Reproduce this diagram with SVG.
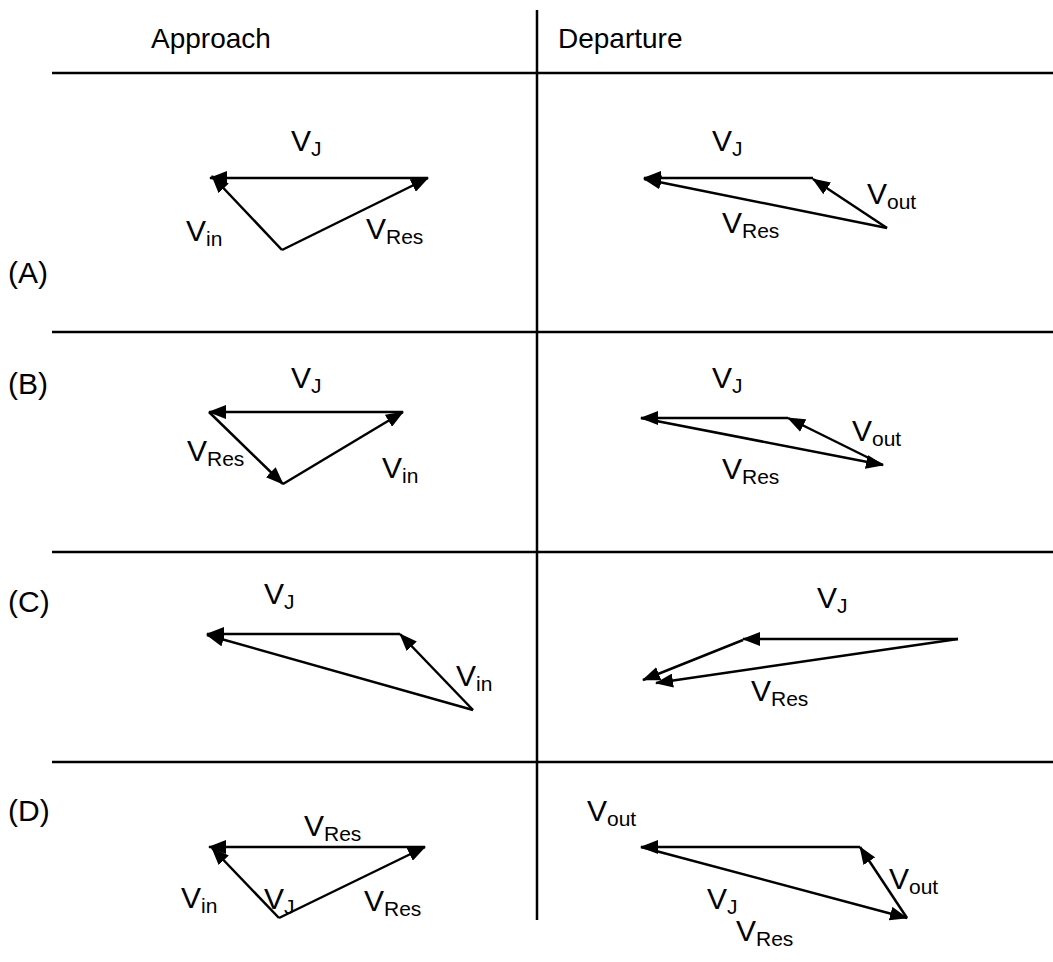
<svg xmlns="http://www.w3.org/2000/svg" width="1053" height="962" viewBox="0 0 1053 962">
<defs>
<style>
.t{font-family:"Liberation Sans",Arial,sans-serif;font-size:30px;fill:#000}
.h{font-size:28px}
.s{font-size:21px}
.g{stroke:#000;stroke-width:2.5;fill:none}
.v{stroke:#000;stroke-width:2.5;fill:none;marker-end:url(#ah)}
</style>
<marker id="ah" viewBox="0 0 18 14" refX="17" refY="7" markerWidth="18" markerHeight="14" orient="auto" markerUnits="userSpaceOnUse"><path d="M0,0 L18,7 L0,14 z" fill="#000"/></marker>
</defs>
<rect width="1053" height="962" fill="#fff"/>
<g id="grid">
<line class="g" x1="537" y1="10" x2="537" y2="920"/>
<line class="g" x1="52" y1="73" x2="1053" y2="73"/>
<line class="g" x1="52" y1="332" x2="1053" y2="332"/>
<line class="g" x1="52" y1="552" x2="1053" y2="552"/>
<line class="g" x1="52" y1="762" x2="1053" y2="762"/>
</g>
<g id="headers">
<text class="t h" x="151" y="48">Approach</text>
<text class="t h" x="558" y="48">Departure</text>
<text class="t" x="8" y="283">(A)</text>
<text class="t" x="8" y="394">(B)</text>
<text class="t" x="8" y="612">(C)</text>
<text class="t" x="8" y="821">(D)</text>
</g>
<g id="connectors">
<line class="v" x1="428" y1="178" x2="210" y2="178"/>
<line class="v" x1="282" y1="250" x2="212" y2="176"/>
<line class="v" x1="282" y1="250" x2="428" y2="178"/>
<line class="v" x1="813" y1="178" x2="644" y2="178"/>
<line class="v" x1="887" y1="228" x2="813" y2="179"/>
<line class="v" x1="887" y1="228" x2="644" y2="179"/>
<line class="v" x1="403" y1="412" x2="209" y2="412"/>
<line class="v" x1="209" y1="412" x2="283" y2="484"/>
<line class="v" x1="283" y1="484" x2="403" y2="412"/>
<line class="v" x1="788" y1="418" x2="641" y2="418"/>
<line class="v" x1="883" y1="465" x2="788" y2="418"/>
<line class="v" x1="641" y1="418" x2="883" y2="465"/>
<line class="v" x1="400" y1="634" x2="207" y2="634"/>
<line class="v" x1="473" y1="710" x2="400" y2="634"/>
<line class="v" x1="473" y1="710" x2="207" y2="635"/>
<line class="v" x1="958" y1="639" x2="743" y2="639"/>
<line class="v" x1="743" y1="640" x2="643" y2="680"/>
<line class="v" x1="958" y1="639" x2="656" y2="683"/>
<line class="v" x1="425" y1="847" x2="209" y2="847"/>
<line class="v" x1="279" y1="918" x2="212" y2="848"/>
<line class="v" x1="279" y1="918" x2="425" y2="847"/>
<line class="v" x1="860" y1="847" x2="641" y2="847"/>
<line class="v" x1="907" y1="918" x2="860" y2="847"/>
<line class="v" x1="641" y1="847" x2="907" y2="918"/>
</g>
<g id="labels">
<text class="t" x="291" y="151">V<tspan class="s" dy="5">J</tspan></text>
<text class="t" x="186" y="241">V<tspan class="s" dy="5">in</tspan></text>
<text class="t" x="366" y="239">V<tspan class="s" dy="5">Res</tspan></text>
<text class="t" x="712" y="151">V<tspan class="s" dy="5">J</tspan></text>
<text class="t" x="867" y="204">V<tspan class="s" dy="5">out</tspan></text>
<text class="t" x="722" y="233">V<tspan class="s" dy="5">Res</tspan></text>
<text class="t" x="291" y="388">V<tspan class="s" dy="5">J</tspan></text>
<text class="t" x="187" y="461">V<tspan class="s" dy="5">Res</tspan></text>
<text class="t" x="382" y="478">V<tspan class="s" dy="5">in</tspan></text>
<text class="t" x="712" y="388">V<tspan class="s" dy="5">J</tspan></text>
<text class="t" x="852" y="441">V<tspan class="s" dy="5">out</tspan></text>
<text class="t" x="722" y="479">V<tspan class="s" dy="5">Res</tspan></text>
<text class="t" x="264" y="604">V<tspan class="s" dy="5">J</tspan></text>
<text class="t" x="456" y="686">V<tspan class="s" dy="5">in</tspan></text>
<text class="t" x="817" y="608">V<tspan class="s" dy="5">J</tspan></text>
<text class="t" x="751" y="701">V<tspan class="s" dy="5">Res</tspan></text>
<text class="t" x="304" y="836">V<tspan class="s" dy="5">Res</tspan></text>
<text class="t" x="181" y="908">V<tspan class="s" dy="5">in</tspan></text>
<text class="t" x="264" y="909">V<tspan class="s" dy="5">J</tspan></text>
<text class="t" x="364" y="911">V<tspan class="s" dy="5">Res</tspan></text>
<text class="t" x="587" y="821">V<tspan class="s" dy="5">out</tspan></text>
<text class="t" x="889" y="889">V<tspan class="s" dy="5">out</tspan></text>
<text class="t" x="707" y="909">V<tspan class="s" dy="5">J</tspan></text>
<text class="t" x="736" y="941">V<tspan class="s" dy="5">Res</tspan></text>
</g>
</svg>
